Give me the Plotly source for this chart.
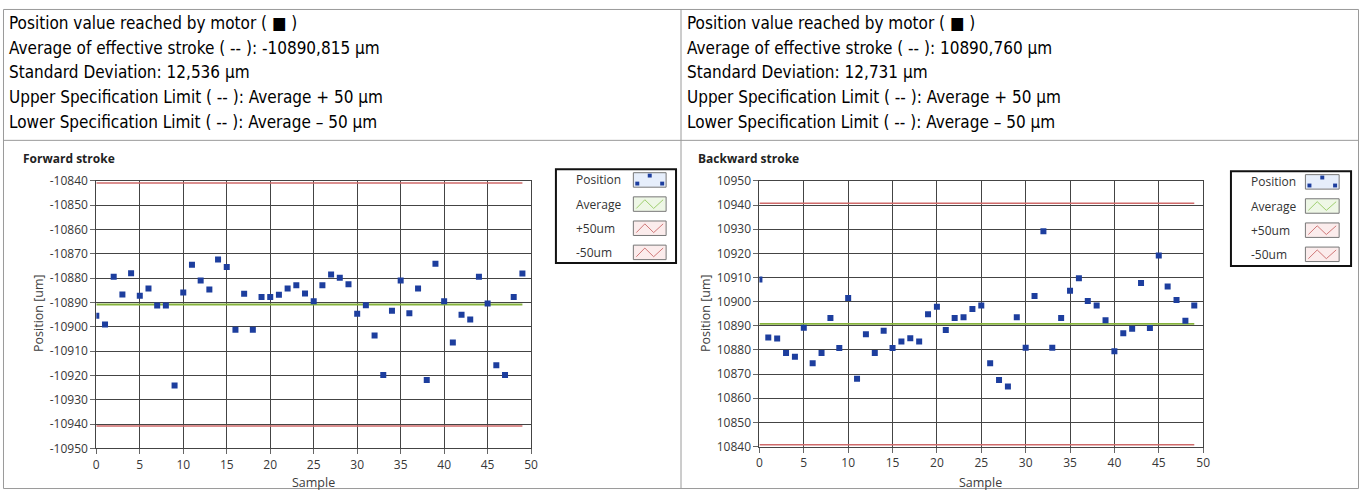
import plotly.graph_objects as go

W, H = 1366, 497

# ---------------- data ----------------
samples = list(range(50))
forward_pos = [-10895.4, -10899.0, -10879.4, -10886.7, -10878.0, -10887.2, -10884.2, -10891.2, -10891.2, -10924.1,
               -10885.9, -10874.5, -10880.9, -10884.6, -10872.3, -10875.4, -10901.2, -10886.4, -10901.2, -10887.7,
               -10887.7, -10886.8, -10884.2, -10882.9, -10886.3, -10889.5, -10882.9, -10878.5, -10879.8, -10882.5,
               -10894.6, -10891.1, -10903.6, -10919.8, -10893.4, -10880.9, -10894.4, -10884.2, -10921.9, -10874.1,
               -10889.5, -10906.4, -10895.0, -10897.0, -10879.4, -10890.4, -10915.8, -10919.8, -10887.7, -10878.1]
backward_pos = [10909.2, 10885.1, 10884.7, 10878.7, 10877.2, 10889.2, 10874.5, 10878.7, 10893.2, 10880.8,
                10901.5, 10868.1, 10886.5, 10878.7, 10887.9, 10880.8, 10883.5, 10884.8, 10883.5, 10894.8,
                10897.9, 10888.3, 10893.2, 10893.5, 10896.9, 10898.4, 10874.5, 10867.5, 10864.9, 10893.5,
                10880.9, 10902.3, 10929.2, 10880.9, 10893.2, 10904.5, 10909.7, 10900.3, 10898.4, 10892.3,
                10879.5, 10886.9, 10888.8, 10907.7, 10889.1, 10919.1, 10906.3, 10900.7, 10892.1, 10898.4]
forward_avg = -10890.815
backward_avg = 10890.760
forward_std = 12.536
backward_std = 12.731
spec_offset = 50

x_ticks = [0, 5, 10, 15, 20, 25, 30, 35, 40, 45, 50]
fwd_y_ticks = [-10840, -10850, -10860, -10870, -10880, -10890, -10900, -10910, -10920, -10930, -10940, -10950]
fwd_y_labels = ["-10840", "-10850", "-10860", "-10870", "-10880", "-10890", "-10900", "-10910", "-10920",
                "-10930", "-10940", "-10950"]
bwd_y_ticks = [10950, 10940, 10930, 10920, 10910, 10900, 10890, 10880, 10870, 10860, 10850, 10840]
bwd_y_labels = ["10950", "10940", "10930", "10920", "10910", "10900", "10890", "10880", "10870", "10860",
                "10850", "10840"]
legend_labels = ["Position", "Average", "+50um", "-50um"]
chart_titles = ["Forward stroke", "Backward stroke"]


def fmt(v):
    return f"{v:.3f}".replace(".", ",")


def info_lines(avg, std):
    return [
        "Position value reached by motor ( ■ )",
        f"Average of effective stroke ( -- ): {fmt(avg)} µm",
        f"Standard Deviation: {fmt(std)} µm",
        f"Upper Specification Limit ( -- ): Average + {spec_offset} µm",
        f"Lower Specification Limit ( -- ): Average – {spec_offset} µm",
    ]


# ---------------- helpers ----------------
def px(x):
    return x / W


def py(y):
    return 1 - y / H


BLUE = "#1d3e9e"
GREEN = "#86b33c"
RED = "#cf6a6a"
GRID = "#444444"
TICKFONT = dict(family="Open Sans", size=12, color="#383838")

fig = go.Figure()

charts = [
    dict(vals=forward_pos, avg=forward_avg, xa="x", ya="y"),
    dict(vals=backward_pos, avg=backward_avg, xa="x2", ya="y2"),
]
for c in charts:
    n = len(samples)
    fig.add_trace(go.Scatter(x=samples, y=[c["avg"] + spec_offset] * n, mode="lines",
                             line=dict(color=RED, width=1.5), xaxis=c["xa"], yaxis=c["ya"], showlegend=False))
    fig.add_trace(go.Scatter(x=samples, y=[c["avg"] - spec_offset] * n, mode="lines",
                             line=dict(color=RED, width=1.5), xaxis=c["xa"], yaxis=c["ya"], showlegend=False))
    fig.add_trace(go.Scatter(x=samples, y=[c["avg"]] * n, mode="lines",
                             line=dict(color=GREEN, width=1.8), xaxis=c["xa"], yaxis=c["ya"], showlegend=False))
    fig.add_trace(go.Scatter(x=samples, y=c["vals"], mode="markers",
                             marker=dict(symbol="square", size=6, color=BLUE), xaxis=c["xa"], yaxis=c["ya"],
                             showlegend=False))

axis_common = dict(showgrid=True, gridcolor=GRID, gridwidth=1, showline=True, linecolor=GRID, linewidth=1,
                   mirror=True, ticks="outside", ticklen=5, tickcolor="#666", tickfont=TICKFONT, zeroline=False)

# plot areas (pixels)
L = dict(x0=94, x1=532, y0=178, y1=455)
R = dict(x0=762, x1=1209, y0=178, y1=453)

fig.update_layout(
    width=W, height=H, margin=dict(l=0, r=0, t=0, b=0), paper_bgcolor="white", plot_bgcolor="white",
    showlegend=False,
    xaxis=dict(domain=[px(L["x0"]), px(L["x1"])], range=[0, 50], tickvals=x_ticks, anchor="y", **axis_common),
    yaxis=dict(domain=[py(L["y1"]), py(L["y0"])], range=[-10950, -10840], tickvals=fwd_y_ticks,
               ticktext=fwd_y_labels, anchor="x", **axis_common),
    xaxis2=dict(domain=[px(R["x0"]), px(R["x1"])], range=[0, 50], tickvals=x_ticks, anchor="y2", **axis_common),
    yaxis2=dict(domain=[py(R["y1"]), py(R["y0"])], range=[10840, 10950], tickvals=bwd_y_ticks,
                ticktext=bwd_y_labels, anchor="x2", **axis_common),
)

annotations = []
shapes = []

# top info text
TXT = dict(family="DejaVu Sans Condensed", size=17, color="#000")
line_y = [15, 40, 65.5, 91, 116.5]
for x0, (avg, std) in [(4, (forward_avg, forward_std)), (687, (backward_avg, backward_std))]:
    for yy, t in zip(line_y, info_lines(avg, std)):
        annotations.append(dict(x=px(x0), y=py(yy), xref="paper", yref="paper", text=t, showarrow=False,
                                xanchor="left", yanchor="middle", font=TXT))

# chart titles
for x0, t in [(18, chart_titles[0]), (698, chart_titles[1])]:
    annotations.append(dict(x=px(x0), y=py(155), xref="paper", yref="paper", text=f"<b>{t}</b>",
                            showarrow=False, xanchor="left", yanchor="middle",
                            font=dict(family="Open Sans", size=12, color="#222")))

# axis titles
AXT = dict(family="Open Sans", size=12.5, color="#3c3c3c")
for xc, yc in [(35, 315), (707, 315)]:
    annotations.append(dict(x=px(xc), y=py(yc), xref="paper", yref="paper", text="Position [um]",
                            textangle=-90, showarrow=False, xanchor="center", yanchor="middle", font=AXT))
for xc in [313, 985]:
    annotations.append(dict(x=px(xc), y=py(490), xref="paper", yref="paper", text="Sample",
                            showarrow=False, xanchor="center", yanchor="middle", font=AXT))


# legends
def rect(x0, y0, x1, y1, line_color, width, fill="rgba(0,0,0,0)"):
    return dict(type="rect", xref="paper", yref="paper", x0=px(x0), x1=px(x1), y0=py(y1), y1=py(y0),
                line=dict(color=line_color, width=width), fillcolor=fill, layer="above")


def zigzag(x0, y0, x1, y1, color):
    w = x1 - x0
    pts = [(x0 + 3, y1 - 3), (x0 + w * 0.35, y0 + 3), (x0 + w * 0.62, y1 - 3), (x1 - 3, y0 + 3)]
    path = "M " + " L ".join(f"{px(a):.6f},{py(b):.6f}" for a, b in pts)
    return dict(type="path", xref="paper", yref="paper", path=path, line=dict(color=color, width=1),
                layer="above")


icon_styles = [("#e6eefb", None), ("#eef7e6", "#9fcf6f"), ("#fbecec", "#d07878"), ("#fbecec", "#d07878")]
for bx0, by0, bx1, by1, tx, ix0, ix1, ys in [
    (557, 166, 678, 263, 575, 635, 668, [177, 202, 227, 252]),
    (1237, 168, 1358, 266, 1255, 1312, 1346, [179, 204, 229, 254]),
]:
    shapes.append(rect(bx0, by0, bx1, by1, "#111", 2))
    for lab, yc, (bg, lc) in zip(legend_labels, ys, icon_styles):
        annotations.append(dict(x=px(tx), y=py(yc), xref="paper", yref="paper", text=lab, showarrow=False,
                                xanchor="left", yanchor="middle",
                                font=dict(family="Open Sans", size=12, color="#333")))
        iy0, iy1 = yc - 7.5, yc + 7.5
        shapes.append(rect(ix0, iy0, ix1, iy1, "#777", 1, bg))
        if lc is None:
            for (dx, dy) in [(0.5, 0.2), (0.12, 0.75), (0.88, 0.75)]:
                cx = ix0 + (ix1 - ix0) * dx
                cy = iy0 + (iy1 - iy0) * dy
                shapes.append(dict(type="rect", xref="paper", yref="paper", x0=px(cx - 2), x1=px(cx + 2),
                                   y0=py(cy + 2), y1=py(cy - 2), line=dict(width=0), fillcolor=BLUE,
                                   layer="above"))
        else:
            shapes.append(zigzag(ix0, iy0, ix1, iy1, lc))

# table borders
BORDER = "#9a9a9a"
shapes.append(rect(0.5, 0.5, W - 0.5, H - 0.5, BORDER, 1))
shapes.append(dict(type="line", xref="paper", yref="paper", x0=px(683), x1=px(683), y0=0, y1=1,
                   line=dict(color=BORDER, width=1)))
shapes.append(dict(type="line", xref="paper", yref="paper", x0=0, x1=1, y0=py(136), y1=py(136),
                   line=dict(color=BORDER, width=1)))

fig.update_layout(annotations=annotations, shapes=shapes)

fig.write_html("out.html", config={"displayModeBar": False},
               post_script="document.body.style.margin='0';document.body.style.overflow='hidden';")
